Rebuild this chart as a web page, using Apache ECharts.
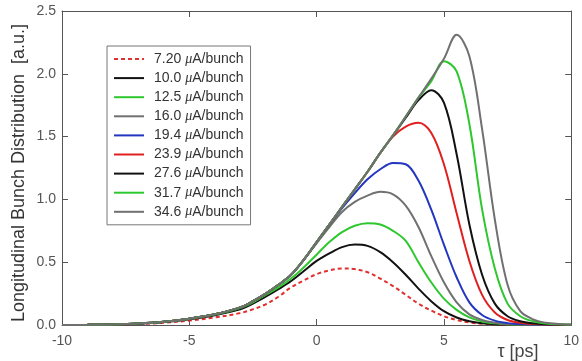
<!DOCTYPE html>
<html><head><meta charset="utf-8">
<script src="https://cdn.jsdelivr.net/npm/echarts@6/dist/echarts.min.js"></script>
<style>html,body{margin:0;padding:0;background:#fff}#c{width:582px;height:361px}</style>
</head><body><div id="c"></div>
<script>
const tau = [-10,-9,-8,-7,-6,-5,-4,-3,-2.5,-2,-1.5,-1,-0.5,0,0.5,1,1.5,2,2.5,3,3.5,4,4.5,5,5.5,6,6.5,7,7.5,8,8.5,9,9.5,10];
const names = ['7.20 μA/bunch','10.0 μA/bunch','12.5 μA/bunch','16.0 μA/bunch','19.4 μA/bunch','23.9 μA/bunch','27.6 μA/bunch','31.7 μA/bunch','34.6 μA/bunch'];
const s720 = [0,0.001,0.003,0.008,0.018,0.035,0.06,0.095,0.125,0.165,0.225,0.30,0.355,0.405,0.435,0.45,0.445,0.42,0.37,0.31,0.24,0.17,0.115,0.07,0.04,0.02,0.01,0.005,0.002,0.001,0,0,0,0];
const s100 = [0,0.001,0.004,0.01,0.023,0.046,0.078,0.125,0.17,0.225,0.285,0.35,0.43,0.51,0.57,0.62,0.64,0.63,0.58,0.50,0.40,0.29,0.19,0.11,0.06,0.03,0.014,0.006,0.003,0.001,0,0,0,0];
const s125 = [0,0.001,0.004,0.011,0.025,0.05,0.083,0.135,0.18,0.24,0.30,0.37,0.46,0.56,0.66,0.74,0.79,0.81,0.80,0.75,0.67,0.50,0.34,0.21,0.12,0.06,0.028,0.013,0.006,0.003,0.001,0,0,0];
const s160 = [0,0.001,0.004,0.011,0.025,0.05,0.085,0.14,0.19,0.25,0.32,0.40,0.52,0.65,0.78,0.90,0.98,1.03,1.06,1.04,0.95,0.78,0.55,0.34,0.18,0.085,0.04,0.018,0.008,0.004,0.002,0.001,0,0];
const s194 = [0,0.001,0.004,0.011,0.025,0.05,0.085,0.14,0.19,0.25,0.32,0.40,0.52,0.66,0.80,0.93,1.05,1.16,1.24,1.29,1.28,1.15,0.92,0.64,0.38,0.18,0.08,0.035,0.015,0.007,0.003,0.001,0,0];
const s239 = [0,0.001,0.004,0.011,0.025,0.05,0.085,0.14,0.19,0.25,0.32,0.40,0.52,0.66,0.80,0.94,1.08,1.22,1.37,1.50,1.58,1.61,1.53,1.28,0.89,0.51,0.24,0.10,0.04,0.017,0.007,0.003,0.001,0];
const s276 = [0,0.001,0.004,0.011,0.025,0.05,0.085,0.14,0.19,0.25,0.32,0.40,0.52,0.66,0.80,0.94,1.08,1.22,1.37,1.51,1.65,1.79,1.87,1.77,1.36,0.80,0.40,0.17,0.07,0.03,0.013,0.006,0.003,0.001];
const s317 = [0,0.001,0.004,0.011,0.025,0.05,0.085,0.14,0.19,0.25,0.32,0.40,0.52,0.66,0.80,0.94,1.08,1.22,1.37,1.51,1.66,1.81,1.94,2.10,2.02,1.60,0.92,0.45,0.17,0.07,0.03,0.012,0.005,0.002];
const s346 = [0,0.001,0.004,0.011,0.025,0.05,0.085,0.14,0.19,0.25,0.32,0.40,0.52,0.66,0.80,0.94,1.08,1.22,1.37,1.51,1.66,1.81,1.96,2.12,2.31,2.14,1.56,0.84,0.32,0.11,0.045,0.018,0.008,0.004];
const values = [s720,s100,s125,s160,s194,s239,s276,s317,s346];
const colors = ['#e0302f','#111111','#2ec82e','#707070','#2236c0','#e02020','#111111','#2ec82e','#707070'];

const chart = echarts.init(document.getElementById('c'), null, {renderer:'canvas'});
const axisCol = '#555';
const series = values.map((v,i)=>({
  name: names[i], type:'line', smooth:0.35, symbol:'none',
  data: v.map((y,j)=>[tau[j],y]),
  lineStyle:{color:colors[i], width:2, type: i===0 ? [4,3] : 'solid'},
  itemStyle:{color:colors[i]}, z: 2+i
}));
chart.setOption({
  animation:false,
  grid:{left:62,right:8,top:11,bottom:36},
  legend:{
    orient:'vertical', left:107, top:46, data:names,
    itemWidth:30, itemHeight:14, itemGap:5.1,
    padding:[6,7,6,6], borderColor:'#777', borderWidth:1, backgroundColor:'#fff',
    itemStyle:{opacity:0},
    formatter: n => n.replace('μ','{mu|μ}'),
    textStyle:{fontSize:14, color:'#333', fontFamily:'Liberation Sans, Arial', padding:[0,0,0,5],
      rich:{mu:{fontStyle:'italic', fontSize:14, color:'#333', fontFamily:'Liberation Serif'}}}
  },
  xAxis:[{type:'value', min:-10, max:10, interval:5, position:'bottom',
    axisLine:{show:true, onZero:false, lineStyle:{color:axisCol}},
    axisTick:{inside:true, length:6, lineStyle:{color:axisCol}},
    axisLabel:{color:'#555', fontSize:14, margin:9, fontFamily:'Liberation Sans, Arial'},
    splitLine:{show:false}},
   {type:'value', min:-10, max:10, interval:5, position:'top',
    axisLine:{show:true, onZero:false, lineStyle:{color:axisCol}},
    axisTick:{inside:true, length:6, lineStyle:{color:axisCol}},
    axisLabel:{show:false}, splitLine:{show:false}}],
  yAxis:[{type:'value', min:0, max:2.5, interval:0.5, position:'left',
    axisLine:{show:true, onZero:false, lineStyle:{color:axisCol}},
    axisTick:{show:true, inside:true, length:6, lineStyle:{color:axisCol}},
    axisLabel:{color:'#555', fontSize:14, margin:6, formatter:v=>v.toFixed(1), fontFamily:'Liberation Sans, Arial'},
    splitLine:{show:false}},
   {type:'value', min:0, max:2.5, interval:0.5, position:'right',
    axisLine:{show:true, onZero:false, lineStyle:{color:axisCol}},
    axisTick:{show:true, inside:true, length:6, lineStyle:{color:axisCol}},
    axisLabel:{show:false}, splitLine:{show:false}}],
  graphic:[
    {type:'text', x:19, y:173, rotation:Math.PI/2,
     style:{text:'Longitudinal Bunch Distribution  [a.u.]', fill:'#333', font:'18px "Liberation Sans", Arial', textAlign:'center', textVerticalAlign:'middle'}},
    {type:'text', x:518, y:352, style:{text:'τ [ps]', fill:'#444', font:'18px "Liberation Sans", Arial', textAlign:'center', textVerticalAlign:'middle'}}
  ],
  series: series
});
</script></body></html>
